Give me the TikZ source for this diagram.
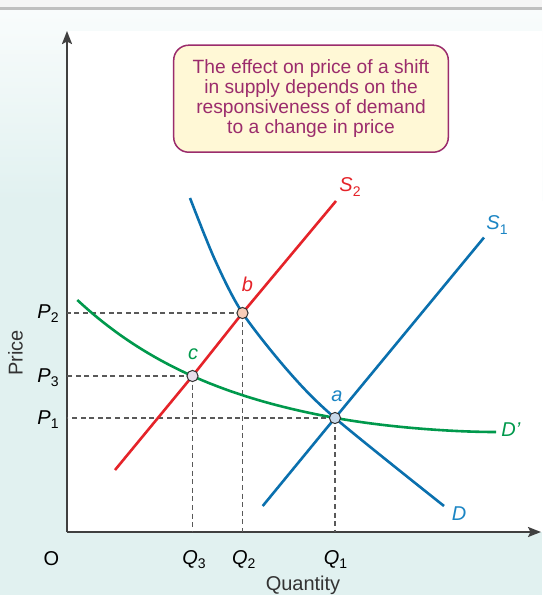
\documentclass[tikz,border=0pt]{standalone}
\usepackage{fontspec}
\setmainfont{Liberation Sans}
\usetikzlibrary{arrows.meta}

\definecolor{suppred}{HTML}{E52329}
\definecolor{curveblue}{HTML}{0A70AE}
\definecolor{labblue}{HTML}{1B85C4}
\definecolor{demgreen}{HTML}{00994C}
\definecolor{notepurple}{HTML}{9B2C6C}
\definecolor{notefill}{HTML}{FFF8D6}
\definecolor{panel}{HTML}{E1F1F0}
\definecolor{fillb}{HTML}{F8CDB8}
\definecolor{fillc}{HTML}{E8DDEB}
\definecolor{filla}{HTML}{C8D9EA}

\newcommand{\sublab}[2]{\textit{#1}\raisebox{-0.4ex}{\fontsize{7}{7}\selectfont #2}}

\begin{document}
\begin{tikzpicture}[x=0.5pt,y=-0.5pt,
  curve/.style={line width=1.3pt},
  guide/.style={dash pattern=on 2.5pt off 1.8pt, line width=0.6pt, draw=black!65},
  dot/.style={circle, draw=black!80, line width=0.5pt, minimum size=5.6pt, inner sep=0pt},
  lab/.style={font=\fontsize{10}{12}\selectfont, inner sep=0pt},
  axis/.style={line width=1pt, draw=black!75, -{Stealth[length=6.5pt,width=5pt,inset=1.2pt]}}]

% background
\fill[panel] (0,0) rectangle (542,595);
\shade[top color={rgb,255:red,249;green,252;blue,252}, bottom color=panel] (0,10) rectangle (542,200);
\fill[white] (67,31) rectangle (542,532);
\fill[black!4] (0,0) rectangle (542,7);
\fill[black!25] (0,7) rectangle (542,10);
\useasboundingbox (0,0) rectangle (542,595);

% axes
\coordinate (origin) at (67,532);
\coordinate (ytip) at (67,31);
\coordinate (xtip) at (541,532);
\draw[axis] (origin) -- (ytip);
\draw[axis] (origin) -- (xtip);

% equilibrium points
\coordinate (pb) at (242.5,313);
\coordinate (pc) at (192.5,376);
\coordinate (pa) at (335,418);

% guide lines
\draw[guide] (pb) -- (pb -| origin);
\draw[guide] (pc) -- (pc -| origin);
\draw[guide] (pa) -- (pa -| origin);
\draw[guide] (pb) -- (pb |- origin);
\draw[guide] (pc) -- (pc |- origin);
\draw[guide] (pa) -- (pa |- origin);

% demand curves
\draw[curve, demgreen] plot[domain=77.3:335, samples=50] (\x, {446-146*exp(-(\x-77.3)/156.5)})
  .. controls (385,427) and (450,432) .. (496,432);
\draw[curve, curveblue] plot[smooth] coordinates {(190,198) (215,260) (pb) (289,372) (pa) (444,506)};

% supply curves
\draw[curve, suppred] (115,470) -- (pc) -- (pb) -- (336,201);
\draw[curve, curveblue] (262.7,506) -- (pa) -- (484,237.5);

% points
\node[dot, fill=fillb] (b) at (pb) {};
\node[dot, fill=fillc] (c) at (pc) {};
\node[dot, fill=filla] (a) at (pa) {};

% curve labels
\node[lab, text=suppred] (s2lab) at (350,187) {\sublab{S}{2}};
\node[lab, text=labblue] (s1lab) at (497,225) {\sublab{S}{1}};
\node[lab, text=labblue] (dlab) at (459,514) {\textit{D}};
\node[lab, text=demgreen] (dplab) at (511,430) {\textit{D’}};
\node[lab, text=suppred] (blab) at (247.5,284) {\textit{b}};
\node[lab, text=demgreen] (clab) at (193,354) {\textit{c}};
\node[lab, text=labblue] (alab) at (337,396) {\textit{a}};

% axis labels
\node[lab, anchor=base east] (p2) at (59,318.5) {\sublab{P}{2}};
\node[lab, anchor=base east] (p3) at (59,382) {\sublab{P}{3}};
\node[lab, anchor=base east] (p1) at (59,424.5) {\sublab{P}{1}};
\node[lab, anchor=base] (olab) at (51.5,565) {O};
\node[lab, anchor=base] (q3) at (194,564) {\sublab{Q}{3}};
\node[lab, anchor=base] (q2) at (243.7,564) {\sublab{Q}{2}};
\node[lab, anchor=base] (q1) at (335.5,564) {\sublab{Q}{1}};
\node[lab, text=black!80, rotate=90] (price) at (15.5,353) {Price};
\node[lab, text=black!80, anchor=base] (qty) at (303,590) {Quantity};

% note
\node[draw=notepurple, fill=notefill, line width=0.75pt, rounded corners=7.5pt,
  text=notepurple, align=center, minimum width=137.3pt, minimum height=53.5pt,
  inner sep=0pt, font=\fontsize{9.6}{10}\selectfont] (note) at (311,98.7)
  {The effect on price of a shift\\in supply depends on the\\responsiveness of demand\\to a change in price};
\end{tikzpicture}
\end{document}
